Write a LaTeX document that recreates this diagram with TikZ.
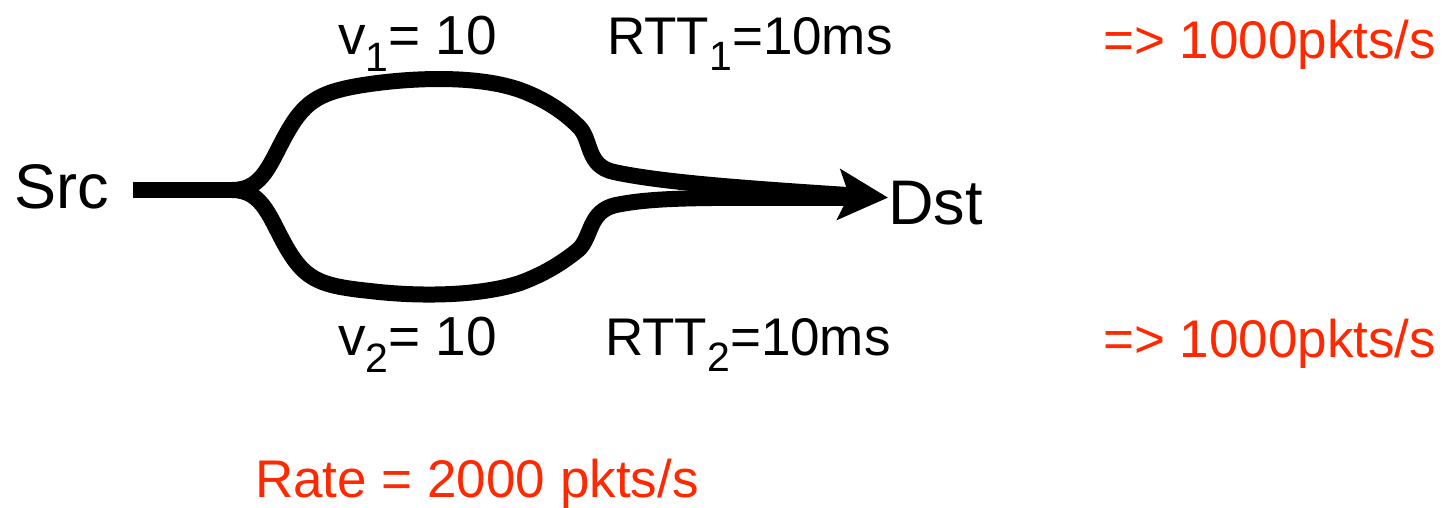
\documentclass[tikz,border=0pt]{standalone}
\usepackage{fontspec}
\setmainfont{Liberation Sans}
\usetikzlibrary{arrows.meta}
\definecolor{rateRed}{RGB}{255,40,0}
\newcommand\lowsub[1]{\raisebox{-0.32em}{\fontsize{41}{41}\selectfont #1}}
\begin{document}
\begin{tikzpicture}[x=1pt,y=-1pt,
  label/.style={anchor=base west,inner sep=0pt,font=\fontsize{53}{60}\selectfont},
  redlabel/.style={label,text=rateRed},
  endpoint/.style={anchor=base west,inner sep=0pt,font=\fontsize{63}{72}\selectfont},
  flow/.style={line width=16pt,line cap=butt,line join=round}]
\useasboundingbox (0,0) rectangle (1454,507);

% end points
\node[endpoint] (Src) at (14,208) {Src};
\node[endpoint] (Dst) at (888,224) {Dst};
\coordinate (fork) at (232,190);
\coordinate (merge) at (862,198);

% labels of the two paths
\node[label,font=\fontsize{55}{60}\selectfont] (v1) at (338,54) {v\lowsub{1}= 10};
\node[label] (rtt1) at (607,54) {RTT\lowsub{1}=10ms};
\node[redlabel] (r1) at (1103,58) {=> 1000pkts/s};
\node[label,font=\fontsize{55}{60}\selectfont] (v2) at (338,355) {v\lowsub{2}= 10};
\node[label] (rtt2) at (605,355) {RTT\lowsub{2}=10ms};
\node[redlabel] (r2) at (1103,357) {=> 1000pkts/s};
\node[redlabel] (rate) at (255,497) {Rate = 2000 pkts/s};

% common stem
\draw[flow] ([xshift=24pt]Src.east |- fork) -- (fork);

% upper branch, ending in the arrow head at Dst
\draw[flow,-{Stealth[length=49pt,width=50pt,inset=10pt]}] (fork)
  .. controls (264,190) and (270,162) .. (288,131)
  .. controls (306,100) and (321,91) .. (370,84)
  .. controls (420,77) and (480,76) .. (520,90)
  .. controls (550,101) and (568,116) .. (579,127)
  .. controls (592,140) and (586,166) .. (614,172)
  .. controls (660,182) and (740,188) .. ([yshift=5pt]Dst.west);

% lower branch, joining under the arrow head
\draw[flow] (fork)
  .. controls (264,190) and (270,220) .. (288,250)
  .. controls (306,280) and (321,286) .. (370,291)
  .. controls (420,297) and (480,296) .. (520,283)
  .. controls (550,272) and (568,258) .. (578,250)
  .. controls (592,238) and (588,211) .. (616,205)
  .. controls (660,196) and (720,198) .. (merge);
\end{tikzpicture}
\end{document}
